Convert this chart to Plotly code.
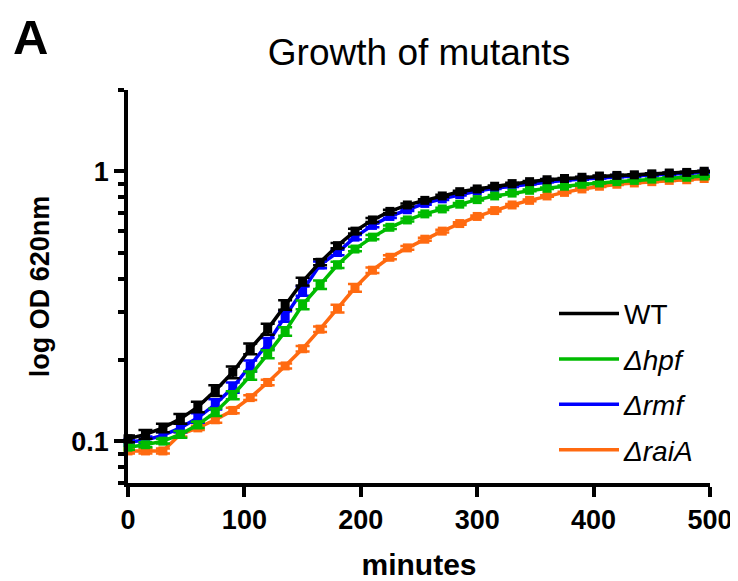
import plotly.graph_objects as go

# ---- data ----
minutes = [0, 15, 30, 45, 60, 75, 90, 105, 120, 135, 150, 165, 180, 195, 210, 225, 240,
           255, 270, 285, 300, 315, 330, 345, 360, 375, 390, 405, 420, 435, 450, 465, 480, 495]

wt = [0.102, 0.106, 0.112, 0.121, 0.134, 0.154, 0.18, 0.22, 0.26, 0.32, 0.39, 0.46, 0.53,
      0.6, 0.66, 0.71, 0.75, 0.78, 0.81, 0.84, 0.86, 0.88, 0.9, 0.915, 0.93, 0.94, 0.95,
      0.96, 0.965, 0.97, 0.978, 0.985, 0.99, 1.0]
hpf = [0.095, 0.097, 0.1, 0.106, 0.115, 0.128, 0.148, 0.175, 0.21, 0.255, 0.32, 0.38, 0.45,
       0.515, 0.57, 0.62, 0.66, 0.695, 0.725, 0.755, 0.785, 0.81, 0.83, 0.85, 0.865, 0.88,
       0.895, 0.905, 0.915, 0.925, 0.935, 0.945, 0.95, 0.96]
rmf = [0.099, 0.101, 0.105, 0.112, 0.122, 0.137, 0.158, 0.19, 0.23, 0.29, 0.36, 0.45, 0.5,
       0.57, 0.63, 0.68, 0.72, 0.76, 0.79, 0.82, 0.845, 0.865, 0.88, 0.9, 0.915, 0.925,
       0.935, 0.945, 0.955, 0.96, 0.968, 0.975, 0.98, 0.99]
raia = [0.092, 0.092, 0.092, 0.106, 0.112, 0.12, 0.13, 0.145, 0.165, 0.19, 0.22, 0.26, 0.31,
        0.37, 0.43, 0.48, 0.52, 0.56, 0.6, 0.64, 0.68, 0.715, 0.75, 0.78, 0.81, 0.835, 0.86,
        0.88, 0.895, 0.905, 0.915, 0.925, 0.93, 0.94]

wt_sd = [0.003, 0.004, 0.004, 0.005, 0.006, 0.007, 0.009, 0.010, 0.012, 0.013, 0.013, 0.012,
         0.012, 0.012, 0.011, 0.010, 0.009, 0.008, 0.008, 0.007, 0.007, 0.006, 0.006, 0.006,
         0.005, 0.005, 0.005, 0.005, 0.005, 0.005, 0.005, 0.005, 0.005, 0.005]
hpf_sd = [0.002, 0.002, 0.002, 0.003, 0.003, 0.004, 0.005, 0.006, 0.007, 0.009, 0.012, 0.014,
          0.012, 0.010, 0.010, 0.009, 0.008, 0.008, 0.007, 0.007, 0.006, 0.006, 0.006, 0.006,
          0.005, 0.005, 0.005, 0.005, 0.005, 0.005, 0.005, 0.005, 0.005, 0.005]
rmf_sd = [0.002, 0.003, 0.003, 0.004, 0.005, 0.006, 0.007, 0.009, 0.011, 0.013, 0.014, 0.013,
          0.012, 0.011, 0.010, 0.009, 0.008, 0.008, 0.007, 0.007, 0.006, 0.006, 0.006, 0.006,
          0.005, 0.005, 0.005, 0.005, 0.005, 0.005, 0.005, 0.005, 0.005, 0.005]
raia_sd = [0.002, 0.002, 0.002, 0.002, 0.002, 0.003, 0.003, 0.003, 0.004, 0.004, 0.005, 0.006,
           0.010, 0.012, 0.010, 0.008, 0.008, 0.007, 0.007, 0.007, 0.006, 0.006, 0.006, 0.006,
           0.005, 0.005, 0.005, 0.005, 0.005, 0.005, 0.005, 0.005, 0.005, 0.005]

series = [
    ("WT", wt, wt_sd, "#000000"),
    ("<i>Δhpf</i>", hpf, hpf_sd, "#00BB00"),
    ("<i>Δrmf</i>", rmf, rmf_sd, "#0000FF"),
    ("<i>ΔraiA</i>", raia, raia_sd, "#FF6A10"),
]

y_major = [0.1, 1]
y_major_text = ["0.1", "1"]
y_minor = [0.07, 0.08, 0.09, 0.2, 0.3, 0.4, 0.5, 0.6, 0.7, 0.8, 0.9, 2]
x_ticks = [0, 100, 200, 300, 400, 500]

FONT = "Arial, Liberation Sans, sans-serif"

# the page body adds an 8px offset; the figure is sized so the plot lands where the reference has it
W, H = 730, 573
ML, MR, MT, MB = 120, 28, 82, 98
PH = H - MT - MB  # plot height in px

fig = go.Figure()

# data traces (drawn back to front: orange, blue, green, black on top)
for name, vals, sd, col in reversed(series):
    fig.add_trace(go.Scatter(
        x=minutes, y=vals, mode="lines+markers", name=name, showlegend=False,
        line=dict(color=col, width=3.5),
        marker=dict(symbol="square", size=9, color=col),
        error_y=dict(type="data", array=sd, visible=True, color=col, thickness=2.5, width=7),
        cliponaxis=False,
    ))

# legend-only entries (line only)
for i, (name, vals, sd, col) in enumerate(series):
    fig.add_trace(go.Scatter(
        x=[None], y=[None], mode="lines", name=name, legendgroup=f"g{i}",
        line=dict(color=col, width=3.5),
    ))

fig.update_layout(
    width=W, height=H,
    margin=dict(l=ML, r=MR, t=MT, b=MB, autoexpand=False),
    plot_bgcolor="white", paper_bgcolor="white",
    font=dict(family=FONT, color="black"),
    title=dict(text="Growth of mutants", x=0.5, xref="paper", xanchor="center",
               y=1 - 44 / H, yanchor="middle",
               font=dict(size=37, family=FONT, color="black")),
    showlegend=True,
    legend=dict(x=(554 - 128) / 582, y=0.494, xanchor="left", yanchor="top",
                font=dict(size=28, family=FONT), tracegroupgap=6, itemwidth=60,
                bgcolor="rgba(0,0,0,0)", traceorder="grouped"),
    annotations=[dict(text="<b>A</b>", xref="paper", yref="paper",
                      x=(3 - ML) / 582, y=(H - MB - 29) / PH,
                      xanchor="left", yanchor="middle",
                      showarrow=False, font=dict(size=49, family=FONT))],
)

fig.update_xaxes(
    range=[0, 500], tickvals=x_ticks, ticktext=[f"<b>{v}</b>" for v in x_ticks],
    showline=True, linecolor="black", linewidth=3.5, mirror=False, automargin=False,
    ticks="outside", ticklen=10, tickwidth=3.5, tickcolor="black",
    tickfont=dict(size=27, family=FONT), showgrid=False, zeroline=False,
    title=dict(text="<b>minutes</b>", font=dict(size=30, family=FONT), standoff=23),
)
fig.update_yaxes(
    type="log", range=[-1.155, 0.301], automargin=False,
    tickmode="array", tickvals=y_major, ticktext=[f"<b>{t}</b>" for t in y_major_text],
    showline=True, linecolor="black", linewidth=3.5,
    ticks="outside", ticklen=10, tickwidth=3.5, tickcolor="black",
    tickfont=dict(size=27, family=FONT), showgrid=False, zeroline=False,
    minor=dict(tickmode="array", tickvals=y_minor, ticks="outside", ticklen=6,
               tickwidth=3.5, tickcolor="black", showgrid=False),
    title=dict(text="<b>log OD 620nm</b>", font=dict(size=27, family=FONT), standoff=15),
)

fig.write_html("out.html")
